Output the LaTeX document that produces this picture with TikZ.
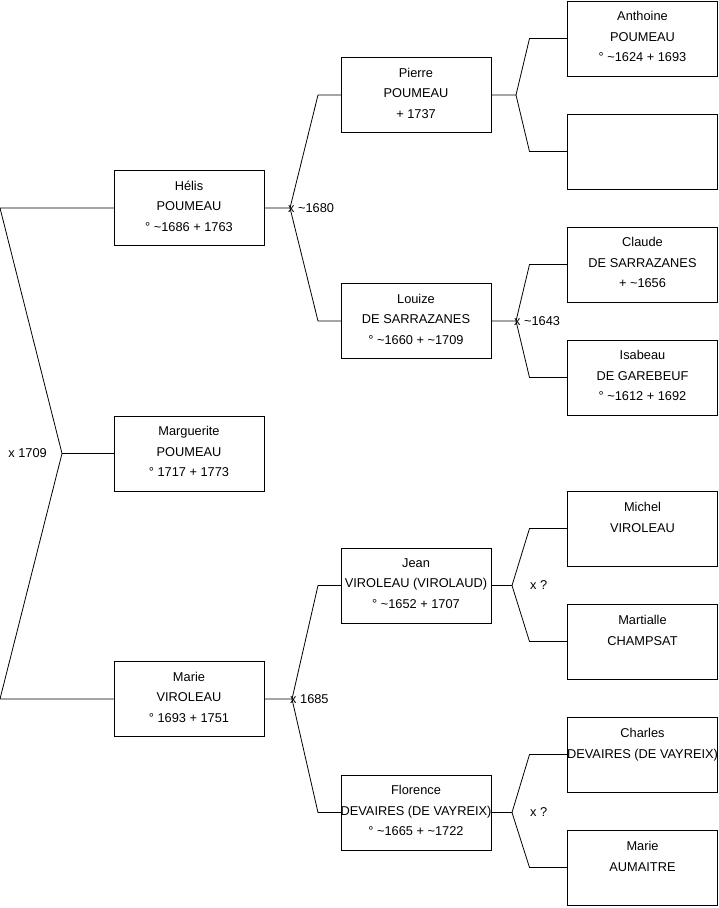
\documentclass[tikz,border=0pt]{standalone}
\usepackage{fontspec}
\setmainfont{Liberation Sans}
\usepackage{tikz}
\usetikzlibrary{positioning}

\newcommand{\env}{\textasciitilde}

\begin{document}
\begin{tikzpicture}[x=1pt,y=-1pt,node distance=38pt,
        every node/.style={font=\fontsize{12.8}{20.5}\selectfont},
        person/.style={rectangle,draw,line width=0.8pt,minimum width=150pt,
          minimum height=75pt,inner sep=0pt,outer sep=0pt},
        who/.style={align=center,inner sep=0pt,yshift=2pt},
        who2/.style={who,yshift=-4pt},
        note/.style={inner sep=0pt,anchor=west},
        link/.style={line width=0.8pt}]
        \useasboundingbox (0,0) rectangle (719,908);
        % generation 1
        \node[person,label={[who]center:{H\'elis\\POUMEAU\\° \env1686 + 1763}}] (helis) at (189,208) {};
        \node[person,label={[who]center:{Marguerite\\POUMEAU\\° 1717 + 1773}}] (marguerite) at (189,453.5) {};
        \node[person,label={[who]center:{Marie\\VIROLEAU\\° 1693 + 1751}}] (marie) at (189,699) {};
        % generation 2
        \node[person,label={[who]center:{Pierre\\POUMEAU\\+ 1737}}] (pierre) at (416,95) {};
        \node[person,label={[who]center:{Louize\\DE SARRAZANES\\° \env1660 + \env1709}}] (louize) at (416,321) {};
        \node[person,label={[who]center:{Jean\\VIROLEAU (VIROLAUD)\\° \env1652 + 1707}}] (jean) at (416,585.5) {};
        \node[person,label={[who]center:{Florence\\DEVAIRES (DE VAYREIX)\\° \env1665 + \env1722}}] (florence) at (416,812.5) {};
        % generation 3
        \node[person,label={[who]center:{Anthoine\\POUMEAU\\° \env1624 + 1693}}] (anthoine) at (642.5,38.5) {};
        \node[person,below=of anthoine] (unknown) {};
        \node[person,below=of unknown,label={[who]center:{Claude\\DE SARRAZANES\\+ \env1656}}] (claude) {};
        \node[person,below=of claude,label={[who]center:{Isabeau\\DE GAREBEUF\\° \env1612 + 1692}}] (isabeau) {};
        \node[person,below=76pt of isabeau,label={[who2]center:{Michel\\VIROLEAU\\\strut}}] (michel) {};
        \node[person,below=of michel,label={[who2]center:{Martialle\\CHAMPSAT\\\strut}}] (martialle) {};
        \node[person,below=of martialle,label={[who2]center:{Charles\\DEVAIRES (DE VAYREIX)\\\strut}}] (charles) {};
        \node[person,below=of charles,label={[who2]center:{Marie\\AUMAITRE\\\strut}}] (aumaitre) {};
        % marriage 1709
        \coordinate[left=52pt of marguerite.west] (m0);
        \draw[link] (helis.west) -- ++(-114,0) -- (m0) -- ([xshift=-114pt]marie.west) -- (marie.west);
        \draw[link] (m0) -- (marguerite.west);
        \node[note,anchor=east] at ([xshift=-15pt]m0) {x 1709};
        % parents of Helis
        \draw[link] (helis.east) -- ++(26,0) coordinate (m1) -- ([xshift=-23pt]pierre.west) -- (pierre.west);
        \draw[link] (m1) -- ([xshift=-23pt]louize.west) -- (louize.west);
        \node[note] at ([xshift=-2pt]m1) {x \env1680};
        % parents of Marie
        \draw[link] (marie.east) -- ++(28,0) coordinate (m2) -- ([xshift=-23pt]jean.west) -- (jean.west);
        \draw[link] (m2) -- ([xshift=-23pt]florence.west) -- (florence.west);
        \node[note] at ([xshift=-2pt]m2) {x 1685};
        % parents of Pierre
        \draw[link] (pierre.east) -- ++(25,0) coordinate (m3) -- ([xshift=-38pt]anthoine.west) -- (anthoine.west);
        \draw[link] (m3) -- ([xshift=-38pt]unknown.west) -- (unknown.west);
        % parents of Louize
        \draw[link] (louize.east) -- ++(25,0) coordinate (m4) -- ([xshift=-38pt]claude.west) -- (claude.west);
        \draw[link] (m4) -- ([xshift=-38pt]isabeau.west) -- (isabeau.west);
        \node[note] at ([xshift=-2pt]m4) {x \env1643};
        % parents of Jean
        \draw[link] (jean.east) -- ++(21,0) coordinate (m5) -- ([xshift=-38pt]michel.west) -- (michel.west);
        \draw[link] (m5) -- ([xshift=-38pt]martialle.west) -- (martialle.west);
        \node[note] at ([xshift=18pt]m5) {x ?};
        % parents of Florence
        \draw[link] (florence.east) -- ++(21,0) coordinate (m6) -- ([xshift=-38pt]charles.west) -- (charles.west);
        \draw[link] (m6) -- ([xshift=-38pt]aumaitre.west) -- (aumaitre.west);
        \node[note] at ([xshift=18pt]m6) {x ?};
      \end{tikzpicture}
\end{document}
